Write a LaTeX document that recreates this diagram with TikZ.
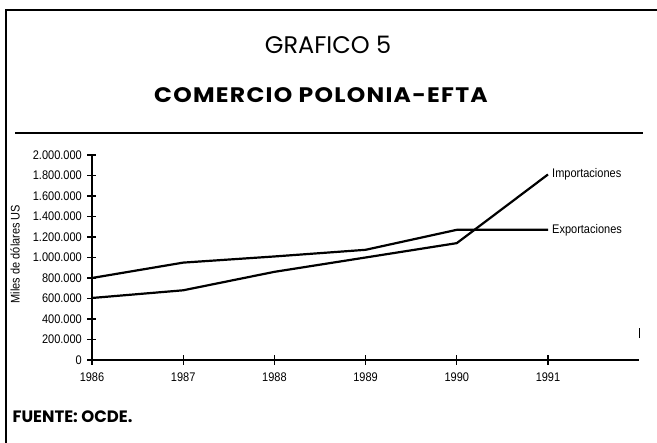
\documentclass[tikz,border=0pt]{standalone}
\usepackage{fontspec}
\usepackage{tikz}
\usetikzlibrary{positioning}
\newfontfamily\narrowfont[FakeStretch=0.88]{Liberation Sans}
\newfontfamily\titlefont{Poppins}
\newfontfamily\widetitlefont[FakeStretch=1.12, LetterSpace=6]{Poppins}
\tikzstyle{serie} = [line width=2.2pt, line join=round]
\tikzstyle{eje} = [line width=1.3pt]
\tikzstyle{marco} = [line width=1.2pt]
\tikzstyle{etiq} = [font=\narrowfont\fontsize{12.5}{14}\selectfont, inner sep=0pt]

\begin{document}
\begin{tikzpicture}[x=1pt,y=1pt]
	\useasboundingbox (0,0) rectangle (657,443);

	\coordinate (TL) at (6,433);
	\coordinate (TR) at (657,433);
	\coordinate (BL) at (6,0);
	\draw[marco] (BL) -- (TL) -- (TR);
	\coordinate (SL) at (15,310);
	\coordinate (SR) at (643,310);
	\draw[marco] (SL) -- (SR);

	\node (G5) at (328,398.5) {\titlefont\fontsize{24}{26}\selectfont GRAFICO 5};
	\node (CP) at (321,347.5) {\widetitlefont\bfseries\fontsize{21}{24}\selectfont COMERCIO POLONIA-EFTA};
	\node[anchor=west] (F) at (9,26.5) {\titlefont\bfseries\fontsize{16.5}{20}\selectfont FUENTE: OCDE.};

	\node[etiq, rotate=90] (UN) at (15,189) {Miles de dólares US};

	\begin{scope}[shift={(92,83)}, x=91.2pt, y=10.25pt]
	\coordinate (O) at (0,0);
	\coordinate (YT) at (0,20);
	\coordinate (XE) at (6,0);
	\draw[eje] (YT) -- (O) -- (XE);
	\foreach \v/\t in {0/0, 2/200.000, 4/400.000, 6/600.000, 8/800.000, 10/1.000.000, 12/1.200.000, 14/1.400.000, 16/1.600.000, 18/1.800.000, 20/2.000.000}
	{
		\draw[eje] ([xshift=-5pt]0,\v) -- ([xshift=4pt]0,\v);
		\node[etiq, left=10pt] (y\v) at (0,\v) {\t};
	}
	\foreach \i/\a in {0/1986, 1/1987, 2/1988, 3/1989, 4/1990, 5/1991}
	{
		\draw[eje] ([yshift=-5pt]\i,0) -- ([yshift=5pt]\i,0);
		\node[etiq, below=13pt] (a\a) at (\i,0) {\a};
	}
	\draw[eje] ([yshift=-5pt]6,2.63) -- ([yshift=5pt]6,2.63);

	\draw[serie] (0,8.0) -- (1,9.5) -- (2,10.1) -- (3,10.75) -- (4,12.7) -- (5,12.7) coordinate (EX);
	\draw[serie] (0,6.05) -- (1,6.8) -- (2,8.6) -- (3,10.0) -- (4,11.4) -- (5,18.1) coordinate (IM);
	\node[etiq, right=4pt] (IMP) at (IM) {Importaciones};
	\node[etiq, right=4pt] (EXP) at (EX) {Exportaciones};
	\end{scope}
\end{tikzpicture}
\end{document}
